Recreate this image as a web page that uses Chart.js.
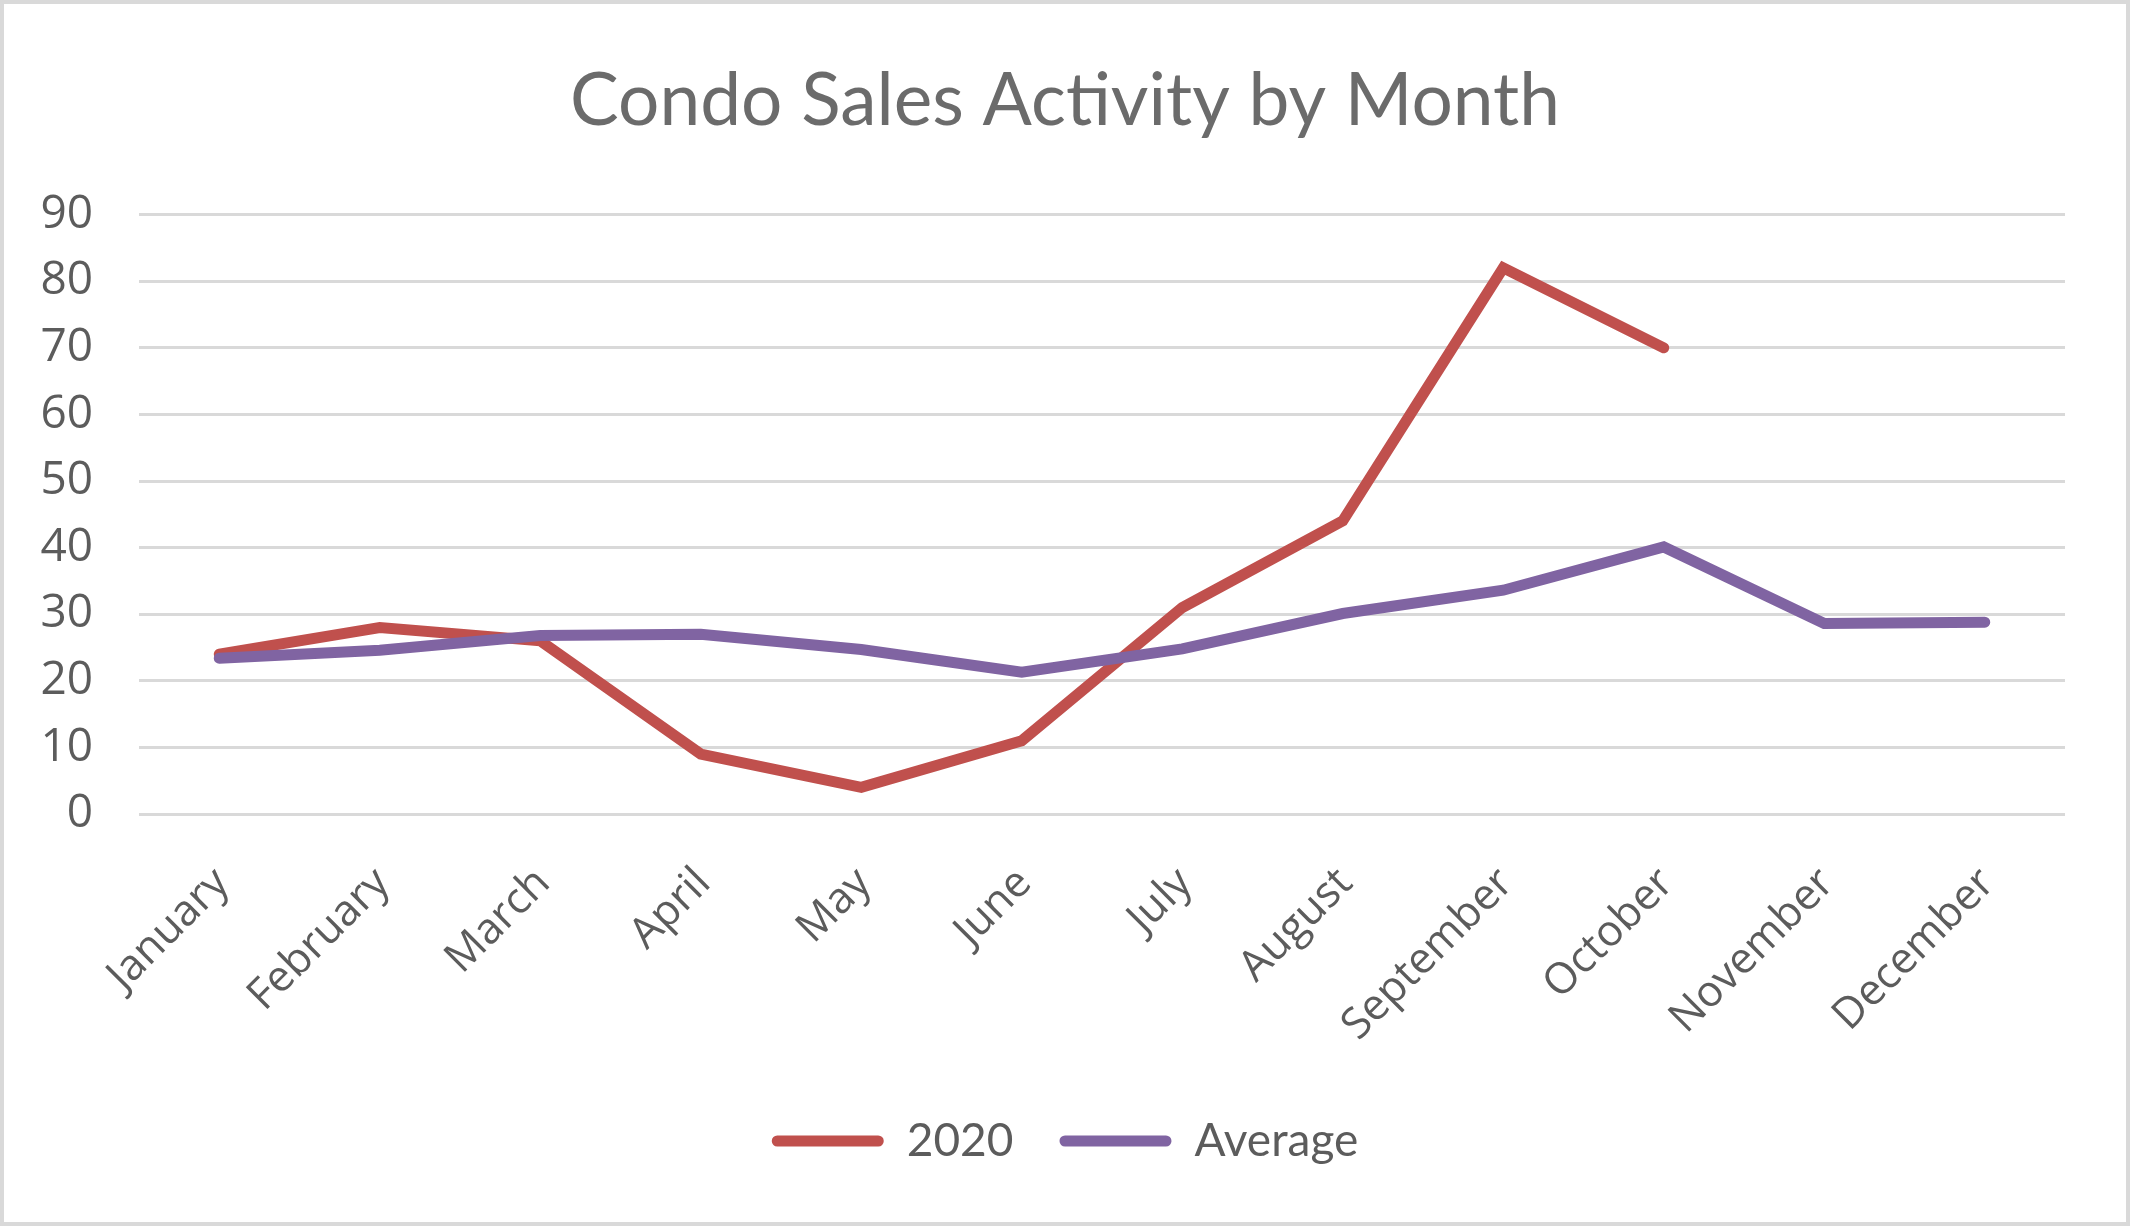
<!DOCTYPE html>
<html>
<head>
<meta charset="utf-8">
<script src="https://cdn.jsdelivr.net/npm/chart.js@4.4.1/dist/chart.umd.min.js"></script>
<style>
  html, body { margin: 0; padding: 0; background: #ffffff; }
  #wrap { position: relative; width: 2130px; height: 1226px; }
  #chart { position: absolute; left: 0; top: 0; }
  #frame { position: absolute; left: 0; top: 0; width: 2130px; height: 1226px;
           box-sizing: border-box; border: 4px solid #d9d9d9; pointer-events: none; }
</style>
</head>
<body>
<div id="wrap">
  <canvas id="chart" width="2130" height="1226"></canvas>
  <div id="frame"></div>
</div>
<script>
const titleText = "Condo Sales Activity by Month";
const months = ["January", "February", "March", "April", "May", "June", "July",
                "August", "September", "October", "November", "December"];
const sales2020 = [24, 28, 26, 9, 4, 11, 31, 44, 82, 70, null, null];
const salesAverage = [23.4, 24.6, 26.8, 27, 24.7, 21.3, 24.8, 30.1, 33.6, 40.1, 28.6, 28.8];
const seriesNames = ["2020", "Average"];
const yMin = 0, yMax = 90, yStep = 10;

const textColor = "#5c5c5c";
const titleColor = "#6b6b6b";

function build() {
  const ctx = document.getElementById("chart").getContext("2d");
  new Chart(ctx, {
    type: "line",
    data: {
      labels: months,
      datasets: [
        {
          label: seriesNames[0],
          data: sales2020,
          borderColor: "#C0504D",
          backgroundColor: "#C0504D",
          borderWidth: 11,
          pointRadius: 0,
          pointHoverRadius: 0,
          tension: 0,
          borderCapStyle: "round",
          borderJoinStyle: "miter",
          spanGaps: false,
          order: 1
        },
        {
          label: seriesNames[1],
          data: salesAverage,
          borderColor: "#8064A2",
          backgroundColor: "#8064A2",
          borderWidth: 11,
          pointRadius: 0,
          pointHoverRadius: 0,
          tension: 0,
          borderCapStyle: "round",
          borderJoinStyle: "miter",
          order: 0
        }
      ]
    },
    options: {
      responsive: false,
      animation: false,
      devicePixelRatio: 1,
      layout: { padding: { left: 0, right: 0, top: 0, bottom: 52 } },
      plugins: {
        title: {
          display: true,
          text: titleText,
          color: titleColor,
          font: { family: "Lato", size: 73, weight: "normal", lineHeight: 1.2 },
          padding: { top: 58, bottom: 69 }
        },
        legend: {
          display: true,
          position: "bottom",
          align: "center",
          labels: {
            color: textColor,
            font: { family: "Lato", size: 46 },
            boxWidth: 112,
            boxHeight: 11,
            useBorderRadius: true,
            borderRadius: 5.5,
            padding: 46,
            sort: (a, b) => a.datasetIndex - b.datasetIndex,
            generateLabels: (chart) => {
              const items = Chart.defaults.plugins.legend.labels.generateLabels(chart);
              items.forEach(it => { it.lineWidth = 0; it.strokeStyle = "rgba(0,0,0,0)"; });
              return items;
            }
          }
        },
        tooltip: { enabled: false }
      },
      scales: {
        x: {
          offset: true,
          grid: { display: false, drawTicks: false },
          border: { display: false },
          ticks: {
            color: textColor,
            font: { family: "Open Sans", size: 43 },
            minRotation: 45,
            maxRotation: 45,
            padding: 44,
            labelOffset: 3,
            autoSkip: false
          },
          afterFit: (scale) => { scale.height = 258; }
        },
        y: {
          min: yMin,
          max: yMax,
          grid: { color: "#d9d9d9", lineWidth: 3, drawTicks: false },
          border: { display: false },
          ticks: {
            stepSize: yStep,
            color: textColor,
            font: { family: "Open Sans", size: 46 },
            padding: 46
          },
          afterFit: (scale) => { scale.width = 139; }
        },
        yRightSpace: {
          position: "right",
          display: true,
          min: yMin,
          max: yMax,
          grid: { display: false, drawTicks: false },
          border: { display: false },
          ticks: { display: false },
          afterFit: (scale) => { scale.width = 65; }
        }
      }
    }
  });
}

if (document.fonts && document.fonts.load) {
  Promise.all([
    document.fonts.load('73px "Lato"'),
    document.fonts.load('43px "Open Sans"')
  ]).then(build, build);
} else {
  build();
}
</script>
</body>
</html>
